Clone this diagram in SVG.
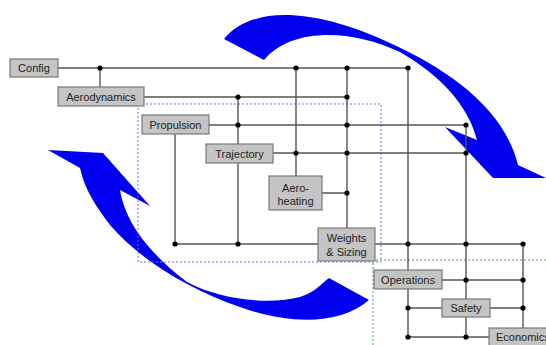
<svg xmlns="http://www.w3.org/2000/svg" width="546" height="345" viewBox="0 0 546 345">
<style>
.arrow{fill:#0000ee;stroke:none}
.grp{fill:none;stroke-width:1;stroke-dasharray:2,2}
.ln{stroke:#555;stroke-width:1.4;fill:none}
.dot{fill:#000}
.box{fill:#c4c4c4;stroke:#7a7a7a;stroke-width:1.2}
.lbl{font-family:"Liberation Sans",Arial,sans-serif;font-size:11px;fill:#222;text-anchor:middle}
</style>
<rect width="546" height="345" fill="#fff"/>
<g id="arrows">
<path class="arrow" d="M224,39 C250,7 310,6 390,43 C450,70 505,110 518,165 L546,178 L493,178 L445,127 L477,140 C468,105 440,75 400,52 C350,28 290,28 264,60 Z"/>
<path class="arrow" d="M369,300 C340,325 290,325 240,307 C190,290 140,260 110,225 C95,205 85,190 80,168 L48,150 L103,153 L150,206 L120,190 C125,220 145,250 187,282 C220,300 270,305 300,297 C315,292 320,285 329,278 Z"/>
</g>
<g id="groups">
<rect class="grp" x="138" y="104" width="243" height="158" stroke="#6f6fe0"/>
<path class="grp" d="M373,345 L373,260 L546,260" stroke="#4caa4c"/>
</g>
<g id="connectors">
<path class="ln" d="M58,68H408 M144,97H347 M209,125H466 M273,153H466 M322,193H347 M175,244H523 M442,280H523 M408,308H523 M408,337H489"/>
<path class="ln" d="M100,68V87 M175,134V244 M238,97V244 M296,68V176 M347,68V228 M408,68V337 M466,125V337 M523,244V328"/>
<g class="dot">
<circle cx="100" cy="68" r="2.6"/><circle cx="296" cy="68" r="2.6"/><circle cx="347" cy="68" r="2.6"/><circle cx="408" cy="68" r="2.6"/>
<circle cx="238" cy="97" r="2.6"/><circle cx="347" cy="97" r="2.6"/>
<circle cx="238" cy="125" r="2.6"/><circle cx="347" cy="125" r="2.6"/><circle cx="466" cy="125" r="2.6"/>
<circle cx="296" cy="153" r="2.6"/><circle cx="347" cy="153" r="2.6"/><circle cx="466" cy="153" r="2.6"/>
<circle cx="347" cy="193" r="2.6"/>
<circle cx="175" cy="244" r="2.6"/><circle cx="238" cy="244" r="2.6"/><circle cx="408" cy="244" r="2.6"/><circle cx="466" cy="244" r="2.6"/><circle cx="523" cy="244" r="2.6"/>
<circle cx="466" cy="280" r="2.6"/><circle cx="523" cy="280" r="2.6"/>
<circle cx="408" cy="308" r="2.6"/><circle cx="523" cy="308" r="2.6"/>
<circle cx="408" cy="337" r="2.6"/><circle cx="466" cy="337" r="2.6"/>
</g>
</g>
<g id="config"><rect class="box" x="10" y="59" width="48" height="18"/><text class="lbl" x="34" y="72">Config</text></g>
<g id="aerodynamics"><rect class="box" x="58" y="87" width="86" height="19"/><text class="lbl" x="101" y="100.5">Aerodynamics</text></g>
<g id="propulsion"><rect class="box" x="142" y="115" width="67" height="19"/><text class="lbl" x="175.5" y="128.5">Propulsion</text></g>
<g id="trajectory"><rect class="box" x="206" y="144" width="67" height="19"/><text class="lbl" x="239.5" y="157.5">Trajectory</text></g>
<g id="aeroheating"><rect class="box" x="269" y="176" width="53" height="34"/><text class="lbl" x="295.5" y="191.5">Aero-</text><text class="lbl" x="295.5" y="205">heating</text></g>
<g id="weights"><rect class="box" x="318" y="228" width="57" height="33"/><text class="lbl" x="346.5" y="242">Weights</text><text class="lbl" x="346.5" y="256">&amp; Sizing</text></g>
<g id="operations"><rect class="box" x="374" y="270" width="68" height="19"/><text class="lbl" x="408" y="283.5">Operations</text></g>
<g id="safety"><rect class="box" x="442" y="299" width="48" height="18"/><text class="lbl" x="466" y="312">Safety</text></g>
<g id="economics"><rect class="box" x="489" y="328" width="70" height="20"/><text class="lbl" x="496" y="341" style="text-anchor:start">Economics</text></g>
</svg>
